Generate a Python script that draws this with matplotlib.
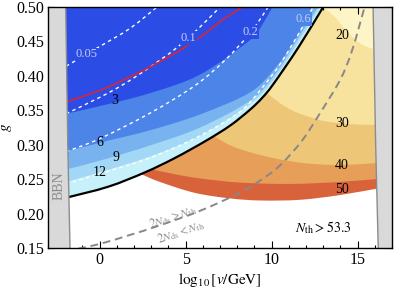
import numpy as np
import matplotlib.pyplot as plt
from matplotlib.path import Path
from matplotlib.patches import PathPatch

plt.rcParams['font.family'] = ['Liberation Serif', 'DejaVu Serif']
plt.rcParams['mathtext.fontset'] = 'stix'

# boundary of the blue region (black curve)
black_x = [-1.95, 0.5, 2.65, 4.4, 6.2, 7.6, 8.75, 9.45, 10.1, 11.55, 13.0]
black_g = [0.223, 0.239, 0.26, 0.281, 0.306, 0.328, 0.351, 0.368, 0.388, 0.441, 0.50]

# blue contours (3, 6, 9, 12)
b1_x = [-1.95, 0.0, 2.95, 5.85, 8.75, 9.45, 10.05]
b1_g = [0.345, 0.356, 0.375, 0.402, 0.452, 0.474, 0.50]
b2_x = [-1.95, 0.03, 2.94, 5.84, 8.75, 10.2, 11.37, 12.35]
b2_g = [0.29, 0.303, 0.321, 0.344, 0.376, 0.411, 0.452, 0.50]
b3_x = [-1.95, 0.03, 2.94, 5.84, 8.75, 10.2, 11.66, 12.7]
b3_g = [0.264, 0.277, 0.299, 0.325, 0.364, 0.402, 0.459, 0.50]
b4_x = [-1.95, 0.03, 2.94, 5.84, 8.75, 10.2, 11.66, 12.82]
b4_g = [0.246, 0.26, 0.283, 0.313, 0.359, 0.397, 0.453, 0.50]

# orange contours (20, 30, 40, 50, 53.3)
o1_x = [13.0, 13.7, 14.25, 14.85, 15.45, 16.5]
o1_g = [0.50, 0.485, 0.468, 0.453, 0.443, 0.435]
o2_x = [9.7, 10.5, 11.35, 12.25, 13.1, 14.1, 15.15, 16.5]
o2_g = [0.376, 0.36, 0.348, 0.34, 0.334, 0.331, 0.329, 0.329]
o3_x = [6.6, 7.6, 8.75, 10.2, 11.65, 13.1, 14.55, 16.5]
o3_g = [0.313, 0.299, 0.289, 0.28, 0.274, 0.271, 0.271, 0.274]
o4_x = [2.9, 4.4, 5.85, 8.15, 11.1, 14.0, 16.5]
o4_g = [0.265, 0.257, 0.251, 0.245, 0.243, 0.246, 0.251]
o5_x = [2.35, 3.5, 5.55, 7.6, 9.35, 11.65, 14.0, 16.5]
o5_g = [0.258, 0.246, 0.23, 0.222, 0.219, 0.22, 0.227, 0.238]

# white dashed contours
d005_x = [-1.95, 0.03, 1.77, 3.34]
d005_g = [0.414, 0.443, 0.469, 0.50]
d01_x = [-1.95, 0.03, 1.48, 2.94, 4.39, 5.84, 7.12]
d01_g = [0.345, 0.369, 0.389, 0.413, 0.439, 0.471, 0.503]
d02_x = [-1.95, 0.03, 2.94, 5.55, 7.3, 8.75, 9.8]
d02_g = [0.29, 0.309, 0.346, 0.386, 0.423, 0.462, 0.50]
d06_x = [-1.95, 0.03, 2.94, 5.84, 8.17, 9.33, 10.49, 11.66, 12.41]
d06_g = [0.243, 0.258, 0.281, 0.313, 0.348, 0.379, 0.417, 0.465, 0.50]

# red line
red_x = [-1.95, 0.03, 1.48, 2.94, 4.39, 5.84, 7.3, 8.6]
red_g = [0.362, 0.379, 0.395, 0.413, 0.433, 0.456, 0.484, 0.504]

# 2 N_ds = N_th
nds_x = [-1.25, 0.03, 1.77, 3.4, 5.84, 8.05, 9.33, 10.49, 11.77, 12.82, 13.98, 14.68, 15.44]
nds_g = [0.149, 0.156, 0.169, 0.182, 0.204, 0.229, 0.248, 0.27, 0.306, 0.346, 0.394, 0.437, 0.503]

# BBN edges
bbnL_x = [-1.97, -1.85, -1.72]
bbnR_x = [15.9, 16.05, 16.2]
bbn_g = [0.5, 0.3, 0.15]

top = 0.5
fig = plt.figure(figsize=(3.95, 2.88), dpi=100)
ax = fig.add_axes([48/395, 40/288, 344/395, 241/288])

# smooth curve through the read points (Catmull-Rom as cubic Bezier)
def bez(x, y):
  p = np.column_stack([x, y]).astype(float)
  q = np.vstack([p[0], p, p[-1]])
  verts = [p[0]]
  codes = [Path.MOVETO]
  for i in range(1, len(q) - 2):
    c1 = q[i] + (q[i+1] - q[i-1]) / 6
    c2 = q[i+1] - (q[i+2] - q[i]) / 6
    verts += [c1, c2, q[i+1]]
    codes += [Path.CURVE4] * 3
  return verts, codes

def fill_up(x, g, c, z):
  verts, codes = bez(x, g)
  verts = verts + [(x[-1], top), (x[0], top), (x[0], g[0])]
  codes = codes + [Path.LINETO, Path.LINETO, Path.CLOSEPOLY]
  ax.add_patch(PathPatch(Path(verts, codes), fc=c, ec="none", lw=0, zorder=z))

def curve(x, g, **kw):
  verts, codes = bez(x, g)
  ax.add_patch(PathPatch(Path(verts, codes), fc="none", **kw))

# orange side
fill_up(o5_x, o5_g, "#d8623a", 1)
fill_up(o4_x, o4_g, "#e69e58", 1.1)
fill_up(o3_x, o3_g, "#eec677", 1.2)
fill_up(o2_x, o2_g, "#f7e29e", 1.3)
fill_up(o1_x, o1_g, "#fdf5c6", 1.4)
# blue side
fill_up(black_x, black_g, "#c6f0fa", 2)
fill_up(b4_x, b4_g, "#a2d8f5", 2.1)
fill_up(b3_x, b3_g, "#78b2ef", 2.2)
fill_up(b2_x, b2_g, "#4c84e8", 2.3)
fill_up(b1_x, b1_g, "#2b4de6", 2.4)

for dx, dg in [(d005_x, d005_g), (d01_x, d01_g), (d02_x, d02_g), (d06_x, d06_g)]:
  curve(dx, dg, ec="white", lw=1, ls=(0, (2.5, 2.5)), zorder=3)
curve(red_x, red_g, ec="#e8202a", lw=1.1, zorder=3.5)
curve(black_x, black_g, ec="black", lw=1.6, zorder=4)
curve(nds_x, nds_g, ec="#888888", lw=1.4, ls=(0, (4, 2.5)), zorder=4)

# BBN bands
ax.fill(np.r_[-3, bbnL_x, -3], np.r_[0.5, bbn_g, 0.15], color="#d9d9d9", lw=0, zorder=6)
ax.fill(np.r_[17, bbnR_x, 17], np.r_[0.5, bbn_g, 0.15], color="#d9d9d9", lw=0, zorder=6)
ax.plot(bbnL_x, bbn_g, color="#8c8c8c", lw=1, zorder=6.5)
ax.plot(bbnR_x, bbn_g, color="#8c8c8c", lw=1, zorder=6.5)
ax.text(-2.35, 0.24, "BBN", rotation=90, color="#8c8c8c", fontsize=10, ha="center", va="center", zorder=7)

# contour labels
for s, x, g in [("3", 0.9, 0.364), ("6", 0.03, 0.303), ("9", 0.96, 0.281), ("12", 0.03, 0.2595),
                ("20", 14.1, 0.459), ("30", 14.1, 0.331), ("40", 14.1, 0.27), ("50", 14.1, 0.2347)]:
  ax.text(x, g, s, fontsize=10, ha="center", va="center", zorder=5)
for s, x, g, bg in [("0.05", -0.78, 0.4315, "#2b4de6"), ("0.1", 5.15, 0.4548, "#2b4de6"),
                    ("0.2", 8.75, 0.4636, "#2b4de6"), ("0.6", 11.83, 0.4825, "#4c84e8")]:
  ax.text(x, g, s, fontsize=9, color="#c5ccf2", ha="center", va="center", zorder=5,
          bbox=dict(boxstyle="square,pad=0.05", fc=bg, ec="none"))

ax.text(4.27, 0.1953, r"$2N_{\rm ds} > N_{\rm th}$", rotation=19, color="#8a8a8a", fontsize=8.5, ha="center", va="center", zorder=5)
ax.text(4.74, 0.1735, r"$2N_{\rm ds} < N_{\rm th}$", rotation=19, color="#8a8a8a", fontsize=8.5, ha="center", va="center", zorder=5)
ax.text(13.0, 0.179, r"$N_{\rm th} > 53.3$", fontsize=10, ha="center", va="center", zorder=5)

ax.set_xlim(-3, 17)
ax.set_ylim(0.15, 0.5)
ax.set_xticks([0, 5, 10, 15])
ax.set_xticks(np.arange(-3, 18, 1), minor=True)
ax.set_yticks(np.arange(0.15, 0.501, 0.05))
ax.set_yticks(np.arange(0.15, 0.501, 0.01), minor=True)
ax.yaxis.set_major_formatter(plt.FormatStrFormatter("%.2f"))
ax.tick_params(which="both", direction="in", top=True, right=True, labelsize=11.5, width=0.8, pad=3)
ax.tick_params(which="major", length=5)
ax.tick_params(which="minor", length=2.5)
for sp in ax.spines.values():
  sp.set_zorder(10)
  sp.set_linewidth(1)
ax.set_xlabel(r"$\log_{10}[v/\mathrm{GeV}]$", fontsize=11, labelpad=2)
ax.set_ylabel(r"$g$", fontsize=11)
ax.yaxis.set_label_coords(-0.1, 0.5)

plt.savefig("out.png", dpi=100)
